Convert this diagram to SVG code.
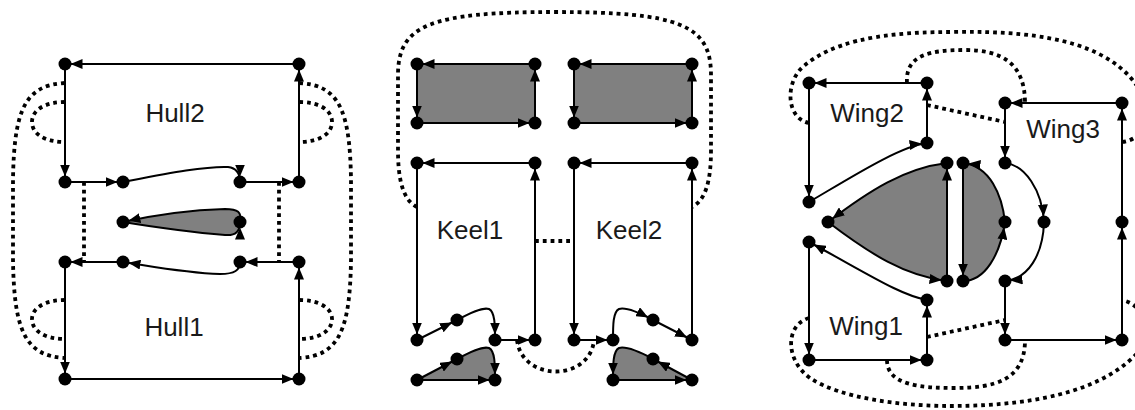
<svg xmlns="http://www.w3.org/2000/svg" width="1135" height="410" viewBox="0 0 1135 410">
  <defs>
    <marker id="arr" viewBox="0 0 12 10" markerWidth="12" markerHeight="10" refX="17.5" refY="5" orient="auto" markerUnits="userSpaceOnUse">
      <path d="M0,0 L12,5 L0,10 Z" fill="#000"/>
    </marker>
    <style>
      .face { fill: #808080; stroke: none; }
      .edge { fill: none; stroke: #000; stroke-width: 2; marker-end: url(#arr); }
      .dot { fill: none; stroke: #000; stroke-width: 3.8; stroke-dasharray: 3.8 4; }
      .node circle { fill: #000; }
      .lbl { font-family: "Liberation Sans", Arial, sans-serif; font-size: 26px; fill: #1a1a1a; text-anchor: middle; }
    </style>
  </defs>

  <!-- shaded faces -->
  <g id="faces">
    <path class="face" d="M123,222 C160,228 200,233 225,235 C236,236 240,231 240,222 C242,212 238,209 225,209 C190,210 150,216 123,222 Z"/>
    <rect class="face" x="417" y="64" width="118" height="59"/>
    <rect class="face" x="574" y="64" width="118" height="59"/>
    <path class="face" d="M417,380 L457,359 C470,352 482,346 489,348 C495,351 495,364 495,380 Z"/>
    <path class="face" d="M613,380 L692,380 L653,359 C640,352 626,346 619,348 C613,351 613,364 613,380 Z"/>
    <path class="face" d="M947,281 L947,163 C905,168 870,190 828,222 C870,254 905,276 947,281 Z"/>
    <path class="face" d="M963,163 L963,281 C985,281 1000,255 1005,222 C1002,195 990,166 963,163 Z"/>
  </g>

  <!-- dotted connectors -->
  <g id="dotted">
    <path class="dot" d="M84,182 L84,262"/>
    <path class="dot" d="M279,182 L279,262"/>
    <path class="dot" d="M65,102 C45,102 32,110 32,122 C32,134 45,142 65,142"/>
    <path class="dot" d="M65,300 C45,300 32,308 32,319 C32,331 45,339 65,339"/>
    <path class="dot" d="M65,83 C25,85 14,110 13,180 L13,260 C14,330 25,356 65,358"/>
    <path class="dot" d="M299,102 C319,102 332,110 332,122 C332,134 319,142 299,142"/>
    <path class="dot" d="M299,300 C319,300 332,308 332,319 C332,331 319,339 299,339"/>
    <path class="dot" d="M299,83 C339,85 350,110 351,180 L351,260 C350,330 339,356 299,358"/>

    <path class="dot" d="M535,241 L574,241"/>
    <path class="dot" d="M517,340 C522,382 590,382 594,340"/>
    <path class="dot" d="M417,207 C403,200 398,180 398,150 L398,75 C398,25 430,12 555,12 C680,12 711,25 711,75 L711,150 C711,180 706,200 692,207"/>

    <path class="dot" d="M927,105 L1005,122"/>
    <path class="dot" d="M927,337 L1005,320"/>
    <path class="dot" d="M907,83 C905,55 930,50 965,50 C1000,50 1025,62 1025,103"/>
    <path class="dot" d="M809,123 C785,118 785,80 805,65 C830,45 870,32 950,32 C1050,30 1120,45 1145,100 C1150,125 1140,140 1122,142"/>
    <path class="dot" d="M887,360 C887,385 920,388 955,388 C995,388 1025,380 1025,340"/>
    <path class="dot" d="M809,318 C785,325 785,360 810,378 C840,398 900,406 950,406 C1050,406 1110,385 1140,350 C1150,330 1145,305 1122,300"/>
  </g>

  <!-- directed connectors -->
  <g id="connectors">
    <!-- Hull2 -->
    <path class="edge" d="M299,64 L65,64"/>
    <path class="edge" d="M65,64 L65,182"/>
    <path class="edge" d="M65,182 L123,182"/>
    <path class="edge" d="M123,182 C165,174 205,166 228,167 C236,168 240,173 240,182"/>
    <path class="edge" d="M240,182 L299,182"/>
    <path class="edge" d="M299,182 L299,64"/>
    <!-- foil -->
    <path class="edge" d="M240,222 C242,212 238,209 225,209 C190,210 150,216 123,222"/>
    <path class="edge" d="M123,222 C160,228 200,233 225,235 C236,236 240,231 240,222"/>
    <!-- Hull1 -->
    <path class="edge" d="M299,262 L240,262"/>
    <path class="edge" d="M240,262 C240,270 235,274 220,274 C185,273 150,266 123,262"/>
    <path class="edge" d="M123,262 L65,262"/>
    <path class="edge" d="M65,262 L65,379"/>
    <path class="edge" d="M65,379 L299,379"/>
    <path class="edge" d="M299,379 L299,262"/>

    <!-- upper shaded boxes -->
    <path class="edge" d="M535,64 L417,64"/>
    <path class="edge" d="M417,64 L417,123"/>
    <path class="edge" d="M417,123 L535,123"/>
    <path class="edge" d="M535,123 L535,64"/>
    <path class="edge" d="M692,64 L574,64"/>
    <path class="edge" d="M574,64 L574,123"/>
    <path class="edge" d="M574,123 L692,123"/>
    <path class="edge" d="M692,123 L692,64"/>
    <!-- Keel1 -->
    <path class="edge" d="M535,163 L417,163"/>
    <path class="edge" d="M417,163 L417,340"/>
    <path class="edge" d="M417,340 L457,320"/>
    <path class="edge" d="M457,320 C470,313 482,307 489,309 C495,312 495,325 495,340"/>
    <path class="edge" d="M495,340 L535,340"/>
    <path class="edge" d="M535,340 L535,163"/>
    <path class="edge" d="M417,380 L457,359"/>
    <path class="edge" d="M457,359 C470,352 482,346 489,348 C495,351 495,364 495,380"/>
    <path class="edge" d="M417,380 L495,380"/>
    <!-- Keel2 -->
    <path class="edge" d="M692,163 L574,163"/>
    <path class="edge" d="M574,163 L574,340"/>
    <path class="edge" d="M574,340 L613,340"/>
    <path class="edge" d="M613,340 C613,325 613,312 619,309 C626,307 640,313 653,320"/>
    <path class="edge" d="M653,320 L692,340"/>
    <path class="edge" d="M692,340 L692,163"/>
    <path class="edge" d="M613,380 L692,380"/>
    <path class="edge" d="M692,380 L653,359"/>
    <path class="edge" d="M653,359 C640,352 626,346 619,348 C613,351 613,364 613,380"/>

    <!-- Wing2 -->
    <path class="edge" d="M927,83 L809,83"/>
    <path class="edge" d="M809,83 L809,202"/>
    <path class="edge" d="M809,202 C850,178 900,146 927,143"/>
    <path class="edge" d="M927,143 L927,83"/>
    <!-- shaded wedge -->
    <path class="edge" d="M947,281 L947,163"/>
    <path class="edge" d="M947,163 C905,168 870,190 828,222"/>
    <path class="edge" d="M828,222 C870,254 905,276 947,281"/>
    <!-- shaded half disk -->
    <path class="edge" d="M963,163 L963,281"/>
    <path class="edge" d="M963,281 C985,281 1000,255 1005,222"/>
    <path class="edge" d="M1005,222 C1002,195 990,166 963,163"/>
    <!-- Wing3 -->
    <path class="edge" d="M1122,103 L1005,103"/>
    <path class="edge" d="M1005,103 L1005,163"/>
    <path class="edge" d="M1005,163 C1025,165 1042,190 1044,222"/>
    <path class="edge" d="M1044,222 C1043,255 1028,279 1005,281"/>
    <path class="edge" d="M1005,281 L1005,340"/>
    <path class="edge" d="M1005,340 L1122,340"/>
    <path class="edge" d="M1122,340 L1122,222"/>
    <path class="edge" d="M1122,222 L1122,103"/>
    <!-- Wing1 -->
    <path class="edge" d="M927,300 C900,295 870,275 809,242"/>
    <path class="edge" d="M809,242 L809,360"/>
    <path class="edge" d="M809,360 L927,360"/>
    <path class="edge" d="M927,360 L927,300"/>
  </g>

  <!-- nodes -->
  <g id="nodes">
    <g id="h2a" class="node"><circle cx="65" cy="64" r="6.5"/></g>
    <g id="h2b" class="node"><circle cx="299" cy="64" r="6.5"/></g>
    <g id="h2c" class="node"><circle cx="65" cy="182" r="6.5"/></g>
    <g id="h2d" class="node"><circle cx="123" cy="182" r="6.5"/></g>
    <g id="h2e" class="node"><circle cx="240" cy="182" r="6.5"/></g>
    <g id="h2f" class="node"><circle cx="299" cy="182" r="6.5"/></g>
    <g id="f1" class="node"><circle cx="123" cy="222" r="6.5"/></g>
    <g id="f2" class="node"><circle cx="240" cy="222" r="6.5"/></g>
    <g id="h1a" class="node"><circle cx="65" cy="262" r="6.5"/></g>
    <g id="h1b" class="node"><circle cx="123" cy="262" r="6.5"/></g>
    <g id="h1c" class="node"><circle cx="240" cy="262" r="6.5"/></g>
    <g id="h1d" class="node"><circle cx="299" cy="262" r="6.5"/></g>
    <g id="h1e" class="node"><circle cx="65" cy="379" r="6.5"/></g>
    <g id="h1f" class="node"><circle cx="299" cy="379" r="6.5"/></g>

    <g id="s1a" class="node"><circle cx="417" cy="64" r="6.5"/></g>
    <g id="s1b" class="node"><circle cx="535" cy="64" r="6.5"/></g>
    <g id="s1c" class="node"><circle cx="417" cy="123" r="6.5"/></g>
    <g id="s1d" class="node"><circle cx="535" cy="123" r="6.5"/></g>
    <g id="s2a" class="node"><circle cx="574" cy="64" r="6.5"/></g>
    <g id="s2b" class="node"><circle cx="692" cy="64" r="6.5"/></g>
    <g id="s2c" class="node"><circle cx="574" cy="123" r="6.5"/></g>
    <g id="s2d" class="node"><circle cx="692" cy="123" r="6.5"/></g>
    <g id="k1a" class="node"><circle cx="417" cy="163" r="6.5"/></g>
    <g id="k1b" class="node"><circle cx="535" cy="163" r="6.5"/></g>
    <g id="k1c" class="node"><circle cx="417" cy="340" r="6.5"/></g>
    <g id="k1d" class="node"><circle cx="457" cy="320" r="6.5"/></g>
    <g id="k1e" class="node"><circle cx="495" cy="340" r="6.5"/></g>
    <g id="k1f" class="node"><circle cx="535" cy="340" r="6.5"/></g>
    <g id="t1a" class="node"><circle cx="417" cy="380" r="6.5"/></g>
    <g id="t1b" class="node"><circle cx="457" cy="359" r="6.5"/></g>
    <g id="t1c" class="node"><circle cx="495" cy="380" r="6.5"/></g>
    <g id="k2a" class="node"><circle cx="574" cy="163" r="6.5"/></g>
    <g id="k2b" class="node"><circle cx="692" cy="163" r="6.5"/></g>
    <g id="k2c" class="node"><circle cx="574" cy="340" r="6.5"/></g>
    <g id="k2d" class="node"><circle cx="613" cy="340" r="6.5"/></g>
    <g id="k2e" class="node"><circle cx="653" cy="320" r="6.5"/></g>
    <g id="k2f" class="node"><circle cx="692" cy="340" r="6.5"/></g>
    <g id="t2a" class="node"><circle cx="613" cy="380" r="6.5"/></g>
    <g id="t2b" class="node"><circle cx="653" cy="359" r="6.5"/></g>
    <g id="t2c" class="node"><circle cx="692" cy="380" r="6.5"/></g>

    <g id="w2a" class="node"><circle cx="809" cy="83" r="6.5"/></g>
    <g id="w2b" class="node"><circle cx="927" cy="83" r="6.5"/></g>
    <g id="w2c" class="node"><circle cx="927" cy="143" r="6.5"/></g>
    <g id="w2d" class="node"><circle cx="809" cy="202" r="6.5"/></g>
    <g id="p1" class="node"><circle cx="828" cy="222" r="6.5"/></g>
    <g id="p2" class="node"><circle cx="947" cy="163" r="6.5"/></g>
    <g id="p3" class="node"><circle cx="947" cy="281" r="6.5"/></g>
    <g id="q1" class="node"><circle cx="963" cy="163" r="6.5"/></g>
    <g id="q2" class="node"><circle cx="963" cy="281" r="6.5"/></g>
    <g id="q3" class="node"><circle cx="1005" cy="222" r="6.5"/></g>
    <g id="w3a" class="node"><circle cx="1005" cy="103" r="6.5"/></g>
    <g id="w3b" class="node"><circle cx="1122" cy="103" r="6.5"/></g>
    <g id="w3c" class="node"><circle cx="1005" cy="163" r="6.5"/></g>
    <g id="w3d" class="node"><circle cx="1044" cy="222" r="6.5"/></g>
    <g id="w3e" class="node"><circle cx="1005" cy="281" r="6.5"/></g>
    <g id="w3f" class="node"><circle cx="1005" cy="340" r="6.5"/></g>
    <g id="w3g" class="node"><circle cx="1122" cy="340" r="6.5"/></g>
    <g id="w3h" class="node"><circle cx="1122" cy="222" r="6.5"/></g>
    <g id="w1a" class="node"><circle cx="809" cy="242" r="6.5"/></g>
    <g id="w1b" class="node"><circle cx="809" cy="360" r="6.5"/></g>
    <g id="w1c" class="node"><circle cx="927" cy="360" r="6.5"/></g>
    <g id="w1d" class="node"><circle cx="927" cy="300" r="6.5"/></g>
  </g>

  <!-- region labels -->
  <g id="labels">
    <text class="lbl" x="175" y="122">Hull2</text>
    <text class="lbl" x="174" y="336">Hull1</text>
    <text class="lbl" x="470" y="239">Keel1</text>
    <text class="lbl" x="629" y="239">Keel2</text>
    <text class="lbl" x="867" y="122">Wing2</text>
    <text class="lbl" x="1063" y="138">Wing3</text>
    <text class="lbl" x="866" y="335">Wing1</text>
  </g>
</svg>
